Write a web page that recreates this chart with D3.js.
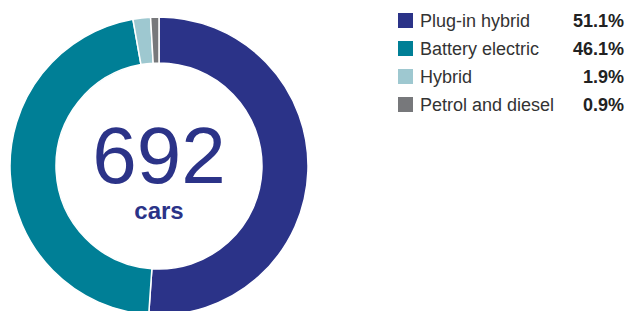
<!DOCTYPE html>
<html>
<head>
<meta charset="utf-8">
<script src="https://cdn.jsdelivr.net/npm/d3@7"></script>
<style>
  body { margin: 0; background: #fff; }
  text { font-family: "Liberation Sans", Arial, sans-serif; }
</style>
</head>
<body>
<div id="chart"></div>
<script>
var categories = ["Plug-in hybrid", "Battery electric", "Hybrid", "Petrol and diesel"];
var shares = [51.1, 46.1, 1.9, 0.9];
var shareLabels = ["51.1%", "46.1%", "1.9%", "0.9%"];
var totalCars = 692;

var svgWidth = 628;
var svgHeight = 311;

var colors = d3.scaleOrdinal()
  .domain(categories)
  .range(["#2b3388", "#007f96", "#9ec8d0", "#77787b"]);

var svg = d3.select("#chart")
  .append("svg")
  .attr("width", svgWidth)
  .attr("height", svgHeight);

var cx = 159, cy = 166;
var outerR = 149, innerR = 103;

var donut = svg.append("g")
  .attr("transform", `translate(${cx}, ${cy})`);

var pie = d3.pie().sort(null).value(d => d);
var arc = d3.arc().innerRadius(innerR).outerRadius(outerR);

donut.selectAll("path")
  .data(pie(shares))
  .enter()
  .append("path")
  .attr("d", arc)
  .attr("fill", (d, i) => colors(categories[i]))
  .attr("stroke", "#fff")
  .attr("stroke-width", 1.5);

donut.append("text")
  .attr("text-anchor", "middle")
  .attr("y", 17)
  .attr("fill", "#2b3388")
  .attr("font-size", 80)
  .text(totalCars);

donut.append("text")
  .attr("text-anchor", "middle")
  .attr("y", 53)
  .attr("fill", "#2b3388")
  .attr("font-size", 24)
  .attr("font-weight", "bold")
  .text("cars");

// legend
var y = d3.scaleBand()
  .domain(categories)
  .range([7, 119]);

var legend = svg.append("g");

var rows = legend.selectAll("g")
  .data(categories)
  .enter()
  .append("g")
  .attr("transform", d => `translate(0, ${y(d)})`);

rows.append("rect")
  .attr("x", 398)
  .attr("y", 6)
  .attr("width", 15)
  .attr("height", 15)
  .attr("fill", d => colors(d));

rows.append("text")
  .attr("x", 420)
  .attr("y", 20)
  .attr("font-size", 18)
  .attr("fill", "#333")
  .text(d => d);

rows.append("text")
  .attr("x", 624)
  .attr("y", 20)
  .attr("font-size", 18)
  .attr("font-weight", "bold")
  .attr("text-anchor", "end")
  .attr("fill", "#222")
  .text((d, i) => shareLabels[i]);
</script>
</body>
</html>
